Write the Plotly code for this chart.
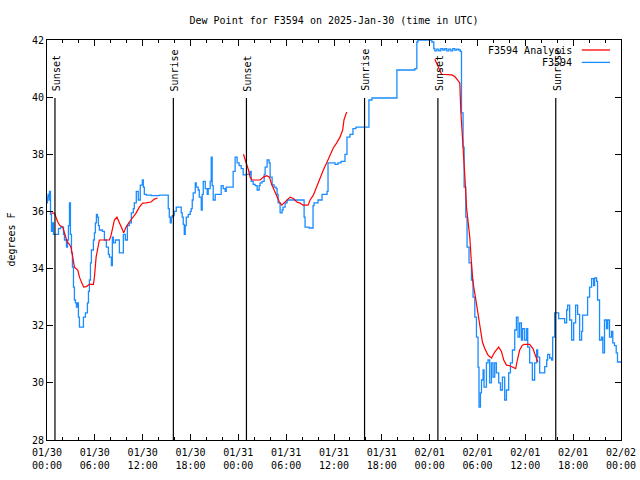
import pandas as pd
import plotly.graph_objects as go

# ---------------- data ----------------
start = pd.Timestamp("2025-01-30 00:00")

# observed dew point (hours since 01/30 00:00 UTC, degrees F)
obs_hours = [0.0, 0.06, 0.13, 0.25, 0.31, 0.44, 0.56, 0.69, 0.81, 1.06, 1.31, 1.44, 1.69, 1.94, 2.07,
             2.19, 2.44, 2.57, 2.69, 2.82, 2.94, 3.07, 3.19, 3.32, 3.44, 3.57, 3.69, 3.82, 3.94, 4.07,
             4.32, 4.57, 4.82, 5.07, 5.20, 5.32, 5.45, 5.57, 5.82, 5.95, 6.07, 6.20, 6.32, 6.45, 6.57,
             6.95, 7.20, 7.45, 7.70, 7.83, 8.08, 8.20, 8.33, 8.58, 8.83, 9.08, 9.33, 9.58, 9.83, 10.08,
             10.33, 10.58, 10.83, 10.95, 11.20, 11.45, 11.70, 11.96, 12.08, 12.21, 12.46, 13.08, 13.58,
             14.09, 15.09, 15.21, 15.34, 15.46, 15.59, 15.71, 15.96, 16.21, 16.71, 16.84, 16.96, 17.09,
             17.22, 17.34, 17.47, 17.72, 17.97, 18.09, 18.22, 18.34, 18.60, 18.72, 18.97, 19.10, 19.35,
             19.47, 19.60, 19.85, 20.10, 20.22, 20.47, 20.60, 20.72, 20.85, 21.10, 21.73, 21.85, 22.10,
             22.35, 22.48, 23.23, 23.35, 23.60, 23.85, 24.10, 24.36, 24.61, 24.98, 25.23, 25.48, 25.61,
             25.86, 26.11, 26.36, 26.61, 26.73, 26.98, 27.24, 27.36, 27.61, 27.86, 27.99, 28.24, 28.49,
             28.74, 28.86, 28.99, 29.24, 29.49, 29.61, 29.87, 30.12, 31.24, 32.12, 32.25, 32.37, 32.87,
             33.25, 33.37, 33.50, 34.00, 34.50, 35.13, 35.25, 35.75, 36.13, 36.50, 36.88, 37.13, 37.38,
             37.63, 38.00, 38.38, 38.75, 40.26, 40.38, 40.76, 43.76, 43.89, 46.14, 46.39, 46.52, 48.15,
             48.27, 48.52, 48.65, 48.90, 49.15, 49.40, 49.65, 49.90, 50.15, 50.40, 50.65, 50.90, 51.15,
             51.40, 51.65, 51.84, 51.99, 52.19, 52.32, 52.53, 52.69, 52.94, 53.24, 53.44, 53.66, 53.87,
             54.07, 54.19, 54.37, 54.50, 54.70, 54.82, 55.12, 55.32, 55.53, 55.75, 55.95, 56.16, 56.37,
             56.66, 56.88, 57.13, 57.41, 57.63, 57.91, 58.13, 58.38, 58.67, 58.88, 59.08, 59.29, 59.51,
             59.67, 59.92, 60.17, 60.30, 60.54, 60.88, 61.17, 61.42, 61.55, 61.80, 62.05, 62.43, 62.68,
             62.80, 63.05, 63.30, 63.43, 63.68, 63.93, 64.18, 64.68, 64.93, 65.18, 65.31, 65.56, 65.81,
             66.06, 66.31, 66.56, 66.81, 67.06, 67.18, 67.68, 67.81, 68.06, 68.31, 68.56, 68.69, 68.94,
             69.06, 69.31, 69.56, 69.72, 69.93, 70.18, 70.34, 70.56, 70.81, 70.97, 71.18, 71.40, 71.56,
             72.0]
obs_dewpoint = [36.3, 36.5, 36.6, 36.4, 36.7, 35.9, 35.3, 35.6, 35.2, 35.2, 35.2, 35.4, 35.45, 35.45, 35.2,
                35.0, 34.75, 35.0, 35.5, 36.3, 35.2, 34.55, 34.05, 33.35, 32.9, 32.8, 32.65, 32.8, 32.3, 31.95,
                31.95, 32.3, 32.45, 32.8, 33.2, 33.6, 34.2, 34.65, 35.0, 35.25, 35.6, 35.9, 35.8, 35.5, 35.35,
                35.3, 35.0, 34.75, 34.5, 34.4, 34.1, 35.1, 34.9, 35.0, 35.0, 34.55, 34.55, 35.2, 35.0, 35.5,
                35.6, 35.95, 36.1, 36.3, 36.7, 36.4, 36.92, 37.1, 36.85, 36.6, 36.57, 36.55, 36.55,
                36.57, 36.57, 36.1, 35.8, 35.6, 35.8, 35.85, 36.0, 36.15, 36.15, 35.95, 35.8, 35.55,
                35.2, 35.5, 35.8, 35.9, 36.0, 36.1, 36.4, 36.65, 37.0, 36.85, 36.75, 36.5, 36.05,
                36.6, 37.05, 36.8, 36.6, 36.8, 37.05, 37.9, 36.9, 36.4, 36.6, 36.6, 36.9, 36.8,
                36.7, 36.85, 36.85, 37.4, 37.9, 37.7, 37.6, 37.5, 37.28, 37.3, 37.3, 37.4, 37.05,
                36.95, 36.9, 36.75, 36.9, 37.0, 37.05, 37.3, 37.55, 37.8, 37.7, 37.2, 36.93, 36.85,
                36.8, 36.6, 36.3, 35.95, 36.05, 36.15, 36.3, 36.4, 36.4, 36.4, 35.8, 35.45, 35.42,
                35.42, 36.2, 36.3, 36.4, 36.6, 36.7, 37.7, 37.7, 37.65, 37.7, 37.75, 37.75, 38.0,
                38.6, 38.7, 38.9, 38.95, 38.95, 39.9, 39.97, 39.97, 40.95, 41.0, 41.93, 42.0, 42.0,
                41.93, 41.7, 41.62, 41.68, 41.62, 41.7, 41.65, 41.7, 41.62, 41.68, 41.62, 41.7, 41.65,
                41.68, 41.65, 41.6, 39.45, 38.25, 36.85, 35.8, 34.75, 34.2, 33.6, 33.0, 32.3, 31.6,
                30.55, 29.15, 29.65, 30.1, 30.45, 29.85, 30.7, 30.8, 30.0, 30.7, 30.2, 30.7, 30.35,
                30.0, 29.75, 30.2, 29.4, 29.75, 30.35, 30.7, 31.15, 31.85, 32.3, 31.6, 32.1, 31.5,
                31.9, 31.5, 31.9, 31.25, 30.7, 30.1, 30.7, 31.15, 30.9, 30.35, 30.35, 30.57, 30.8,
                31.0, 30.87, 30.8, 31.6, 32.45, 32.45, 32.25, 32.25, 32.1, 32.55, 32.72, 32.2, 31.5,
                32.1, 32.72, 32.4, 31.5, 31.8, 32.37, 32.37, 33.0, 33.35, 33.65, 33.4, 33.67, 33.55,
                32.9, 31.5, 31.6, 31.05, 32.2, 31.9, 32.2, 31.6, 31.8, 31.4, 31.3, 31.05, 30.73,
                30.73]

# analysis dew point, three separate runs
ana1_hours = [0.53, 0.94, 1.35, 1.57, 1.98, 2.19, 2.53, 2.82, 3.03, 3.23, 3.44, 3.86, 4.07, 4.36, 4.61,
              4.95, 5.32, 5.82, 5.95, 6.16, 6.36, 6.57, 6.95, 7.83, 8.04, 8.24, 8.45, 8.77, 9.08, 9.37,
              9.62, 9.92, 10.33, 10.74, 11.17, 11.58, 12.0, 12.42, 13.05, 13.46, 13.87]
ana1_values = [35.94, 35.94, 35.63, 35.52, 35.45, 35.25, 34.93, 34.85, 34.72, 34.4, 34.05, 33.95, 33.7, 33.5,
               33.35, 33.37, 33.45, 33.45, 33.7, 34.4, 34.72, 35.0, 35.0, 35.0, 35.17, 35.45, 35.7, 35.8,
               35.63, 35.42, 35.25, 35.45, 35.63, 35.77, 35.94, 36.15, 36.29, 36.3, 36.33, 36.43, 36.47]
ana2_hours = [24.64, 24.98, 25.27, 25.48, 25.73, 26.73, 27.15, 27.57, 27.90, 28.20, 28.49, 28.83, 29.15,
              29.45, 29.87, 30.49, 30.90, 31.33, 31.74, 32.12, 32.75, 33.00, 33.41, 33.83, 34.25, 34.66,
              35.09, 35.50, 35.91, 36.34, 36.75, 37.09, 37.25, 37.59]
ana2_values = [38.0, 37.73, 37.45, 37.2, 37.1, 37.1, 37.2, 37.25, 37.2, 36.93, 36.75, 36.57, 36.33, 36.22,
               36.33, 36.5, 36.45, 36.33, 36.29, 36.22, 36.22, 36.4, 36.57, 36.86, 37.2, 37.45, 37.7,
               37.97, 38.22, 38.4, 38.6, 38.85, 39.2, 39.48]
ana3_hours = [48.65, 49.06, 49.49, 50.78, 51.15, 51.56, 51.78, 51.90, 52.07, 52.28, 52.44, 52.62, 52.82,
              53.03, 53.24, 53.44, 53.74, 53.99, 54.19, 54.37, 54.62, 54.91, 55.32, 55.75, 56.16, 56.66,
              57.0, 57.29, 57.63, 58.04, 58.45, 58.79, 59.0, 59.29, 59.63, 59.92, 60.54, 60.96, 61.17,
              61.38, 61.58]
ana3_values = [41.33, 41.06, 40.8, 40.78, 40.72, 40.58, 40.5, 39.55, 38.85, 37.87, 37.1, 36.15, 35.6, 35.1,
               34.2, 33.5, 33.0, 32.55, 32.2, 31.85, 31.43, 31.2, 30.97, 30.87, 31.08, 31.25, 31.1, 30.8,
               30.62, 30.6, 30.55, 30.5, 30.8, 31.15, 31.32, 31.35, 31.35, 31.2, 31.03, 30.87, 30.73]

sun_labels = ["Sunset", "Sunrise", "Sunset", "Sunrise", "Sunset", "Sunrise"]
sun_times = ["2025-01-30 01:00", "2025-01-30 15:51", "2025-01-31 01:01",
             "2025-01-31 15:50", "2025-02-01 01:02", "2025-02-01 15:49"]

tick_hours = list(range(0, 73, 6))
tick_labels = ["01/30<br>00:00", "01/30<br>06:00", "01/30<br>12:00", "01/30<br>18:00",
               "01/31<br>00:00", "01/31<br>06:00", "01/31<br>12:00", "01/31<br>18:00",
               "02/01<br>00:00", "02/01<br>06:00", "02/01<br>12:00", "02/01<br>18:00",
               "02/02<br>00:00"]

# ---------------- build ----------------
def to_time(hours):
    return [None if h is None else start + pd.Timedelta(hours=h) for h in hours]

ana_hours = ana1_hours + [None] + ana2_hours + [None] + ana3_hours
ana_values = ana1_values + [None] + ana2_values + [None] + ana3_values

FONT = "DejaVu Sans Mono"
RED = "#ff0000"
BLUE = "#1a8cff"

fig = go.Figure()
fig.add_trace(go.Scatter(x=to_time(obs_hours), y=obs_dewpoint, mode="lines",
                         line=dict(color=BLUE, width=1.3, shape="hv"), name="F3594",
                         showlegend=False))
fig.add_trace(go.Scatter(x=to_time(ana_hours), y=ana_values, mode="lines",
                         line=dict(color=RED, width=1.2), name="F3594 Analysis",
                         connectgaps=False, showlegend=False))

shapes = []
annotations = []
for lab, t in zip(sun_labels, sun_times):
    shapes.append(dict(type="line", xref="x", yref="paper", x0=t, x1=t, y0=0, y1=0.855,
                       line=dict(color="black", width=1.2)))
    annotations.append(dict(x=t, y=0.867, xref="x", yref="paper", text=lab, textangle=-90,
                            showarrow=False, xanchor="center", yanchor="bottom", xshift=1,
                            font=dict(family=FONT, size=10, color="black")))

# gnuplot-style key: text then line sample
key = [("F3594 Analysis", RED, 0.975), ("F3594", BLUE, 0.944)]
for name, col, yk in key:
    annotations.append(dict(x=0.9174, y=yk, xref="paper", yref="paper", text=name,
                            showarrow=False, xanchor="right", yanchor="middle",
                            font=dict(family=FONT, size=10, color="black")))
    shapes.append(dict(type="line", xref="paper", yref="paper", x0=0.9317, x1=0.9809,
                       y0=yk, y1=yk, line=dict(color=col, width=1.3)))

annotations.append(dict(x=-0.0635, y=0.5, xref="paper", yref="paper", text="degrees F",
                        textangle=-90, showarrow=False, xanchor="center", yanchor="middle",
                        font=dict(family=FONT, size=10, color="black")))

fig.update_layout(
    width=640, height=480,
    margin=dict(l=46.5, r=18.5, t=40, b=40, autoexpand=False),
    paper_bgcolor="white", plot_bgcolor="white",
    font=dict(family=FONT, size=10, color="black"),
    title=dict(text="Dew Point for F3594 on 2025-Jan-30 (time in UTC)", x=0.5, xref="paper",
               y=1 - 20 / 480, yanchor="middle", automargin=False,
               font=dict(family=FONT, size=10, color="black")),
    shapes=shapes, annotations=annotations, showlegend=False,
)
fig.update_xaxes(
    type="date", range=[start, start + pd.Timedelta(hours=72)], automargin=False,
    tickmode="array", tickvals=to_time(tick_hours), ticktext=tick_labels,
    ticks="inside", ticklen=6, tickcolor="black", showline=True, linecolor="black",
    linewidth=1, mirror="allticks", showgrid=False, zeroline=False, ticklabelstandoff=3,
    minor=dict(dtick=2 * 3600 * 1000, ticks="inside", ticklen=3, tickcolor="black", showgrid=False),
    tickfont=dict(family=FONT, size=10),
)
fig.update_yaxes(
    range=[28, 42], dtick=2, tick0=28, ticks="inside", ticklen=6, tickcolor="black",
    showline=True, linecolor="black", linewidth=1, mirror="allticks", showgrid=False,
    zeroline=False, automargin=False, tickfont=dict(family=FONT, size=10),
)

fig.write_html("out.html", config={"displayModeBar": False},
               post_script="document.body.style.margin='0';document.body.style.padding='0';")
